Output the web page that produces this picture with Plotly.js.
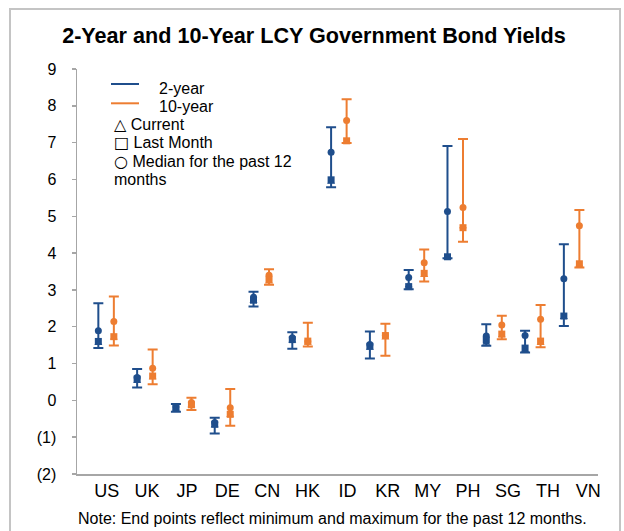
<!DOCTYPE html>
<html><head><meta charset="utf-8">
<script src="https://cdn.plot.ly/plotly-3.0.1.min.js"></script>
<style>
html,body{margin:0;padding:0;background:#fff;}
#wrap{position:relative;width:624px;height:531px;overflow:hidden;}
#chart{position:absolute;left:0;top:0;width:624px;height:531px;}
#frame{position:absolute;left:9px;top:8px;width:612px;height:560px;border:2px solid #c4c4c4;pointer-events:none;box-sizing:border-box;}
</style></head>
<body><div id="wrap"><div id="chart"></div><div id="frame"></div></div>
<script>
const countries = ['US','UK','JP','DE','CN','HK','ID','KR','MY','PH','SG','TH','VN'];

// 2-year yields
const y2Min     = [1.42, 0.35, -0.31, -0.90, 2.55, 1.40, 5.79, 1.14, 3.02, 3.86, 1.48, 1.30, 2.02];
const y2Max     = [2.64, 0.85, -0.10, -0.47, 2.95, 1.85, 7.42, 1.87, 3.54, 6.91, 2.07, 1.89, 4.24];
const y2Median  = [1.89, 0.62, -0.18, -0.60, 2.80, 1.70, 6.74, 1.52, 3.34, 5.13, 1.75, 1.76, 3.30];
const y2Last    = [1.60, 0.58, -0.21, -0.65, 2.72, 1.65, 5.99, 1.47, 3.09, 3.90, 1.64, 1.42, 2.29];
const y2Current = [1.55, 0.52, -0.23, -0.68, 2.70, 1.62, 5.93, 1.42, 3.12, 3.88, 1.56, 1.36, 2.26];

// 10-year yields
const y10Min     = [1.49, 0.44, -0.26, -0.69, 3.14, 1.46, 6.99, 1.21, 3.23, 4.31, 1.66, 1.44, 3.61];
const y10Max     = [2.82, 1.38, 0.07, 0.31, 3.56, 2.11, 8.18, 2.08, 4.10, 7.10, 2.30, 2.59, 5.17];
const y10Median  = [2.14, 0.87, -0.06, -0.20, 3.40, 1.60, 7.60, 1.76, 3.74, 5.24, 2.05, 2.20, 4.74];
const y10Last    = [1.73, 0.66, -0.12, -0.38, 3.28, 1.61, 7.05, 1.76, 3.45, 4.69, 1.80, 1.61, 3.71];
const y10Current = [1.70, 0.62, -0.14, -0.40, 3.22, 1.56, 7.02, 1.70, 3.40, 4.72, 1.76, 1.55, 3.68];

const yTickVals = [-2,-1,0,1,2,3,4,5,6,7,8,9];
const yTickText = ['(2)','(1)','0','1','2','3','4','5','6','7','8','9'];

const BLUE = '#1f4e8c', ORANGE = '#ed7d31';
const FONT = 'Liberation Sans, Arial, sans-serif';

function series(minA, maxA, medA, lastA, curA, offset, color) {
  const xs = countries.map((c, i) => i + offset);
  return [
    {type:'scatter', mode:'markers', x: xs, y: medA,
     marker:{symbol:'circle', size:7, color: color},
     error_y:{type:'data', symmetric:false,
       array: maxA.map((v,i)=>v-medA[i]), arrayminus: minA.map((v,i)=>medA[i]-v),
       color: color, thickness: 2, width: 5},
     showlegend:false, hoverinfo:'skip'},
    {type:'scatter', mode:'markers', x: xs, y: lastA,
     marker:{symbol:'square', size:7, color: color}, showlegend:false, hoverinfo:'skip'},
    {type:'scatter', mode:'markers', x: xs, y: curA,
     marker:{symbol:'triangle-up', size:7, color: color}, showlegend:false, hoverinfo:'skip'}
  ];
}

const data = [].concat(
  series(y2Min, y2Max, y2Median, y2Last, y2Current, -0.2, BLUE),
  series(y10Min, y10Max, y10Median, y10Last, y10Current, 0.2, ORANGE)
);

// plot area in pixels: x 77..598, y 69..474
const L = 77, R = 598, T = 69, B = 474;
const px = v => (v - L) / (R - L);
const py = v => (B - v) / (B - T);

// category labels in the reference are spread slightly wider than the marks
const labelStep = 1.034, labelShift = 0.02;

const SYM = s => '<span style="font-family:\'DejaVu Sans\'">' + s + '</span>';
const legendItems = [
  {text:'2-year', x:157, y:88},
  {text:'10-year', x:157, y:106.5},
  {text:SYM('\u25B3') + ' Current', x:112, y:124},
  {text:SYM('\u25A1') + ' Last Month', x:112, y:142.5},
  {text:SYM('\u25CB') + ' Median for the past 12', x:112, y:161},
  {text:'months', x:112, y:179.5}
];

const annotations = legendItems.map(it => ({
  xref:'paper', yref:'paper', x:px(it.x), y:py(it.y), xanchor:'left', yanchor:'middle',
  text: it.text, showarrow:false, font:{family:FONT, size:16, color:'#000'}
}));
annotations.push({
  xref:'paper', yref:'paper', x:px(332), y:py(518), xanchor:'center', yanchor:'middle',
  text:'Note: End points reflect minimum and maximum for the past 12 months.',
  showarrow:false, font:{family:FONT, size:16, color:'#000'}
});

const shapes = [
  {type:'line', xref:'paper', yref:'paper', x0:px(111), x1:px(139), y0:py(84), y1:py(84), line:{color:BLUE, width:2}},
  {type:'line', xref:'paper', yref:'paper', x0:px(111), x1:px(139), y0:py(103.3), y1:py(103.3), line:{color:ORANGE, width:2}}
];

const layout = {
  width:624, height:531,
  margin:{l:L, r:624-R, t:T, b:531-B},
  paper_bgcolor:'#fff', plot_bgcolor:'#fff',
  showlegend:false,
  title:{text:'<b>2-Year and 10-Year LCY Government Bond Yields</b>', x:314/624, xref:'container', xanchor:'center',
    y:1-35/531, yref:'container', yanchor:'middle', font:{family:FONT, size:21.6, color:'#000'}},
  xaxis:{range:[-0.75, 12.68], tickvals: countries.map((c,i)=>i*labelStep+labelShift), ticktext: countries,
    showgrid:false, zeroline:false, showline:true, linecolor:'#a6a6a6', linewidth:1.5,
    ticks:'', tickfont:{family:FONT, size:18, color:'#000'}, fixedrange:true},
  yaxis:{range:[-2, 9], tickvals:yTickVals, ticktext:yTickText,
    showgrid:false, zeroline:false, showline:true, linecolor:'#a6a6a6', linewidth:1.5,
    ticks:'outside', ticklen:4, tickcolor:'#a6a6a6', tickwidth:1.5,
    tickfont:{family:FONT, size:16, color:'#000'}, ticklabelstandoff:12, fixedrange:true},
  annotations: annotations,
  shapes: shapes
};

Plotly.newPlot('chart', data, layout, {staticPlot:true});
</script>
</body></html>
